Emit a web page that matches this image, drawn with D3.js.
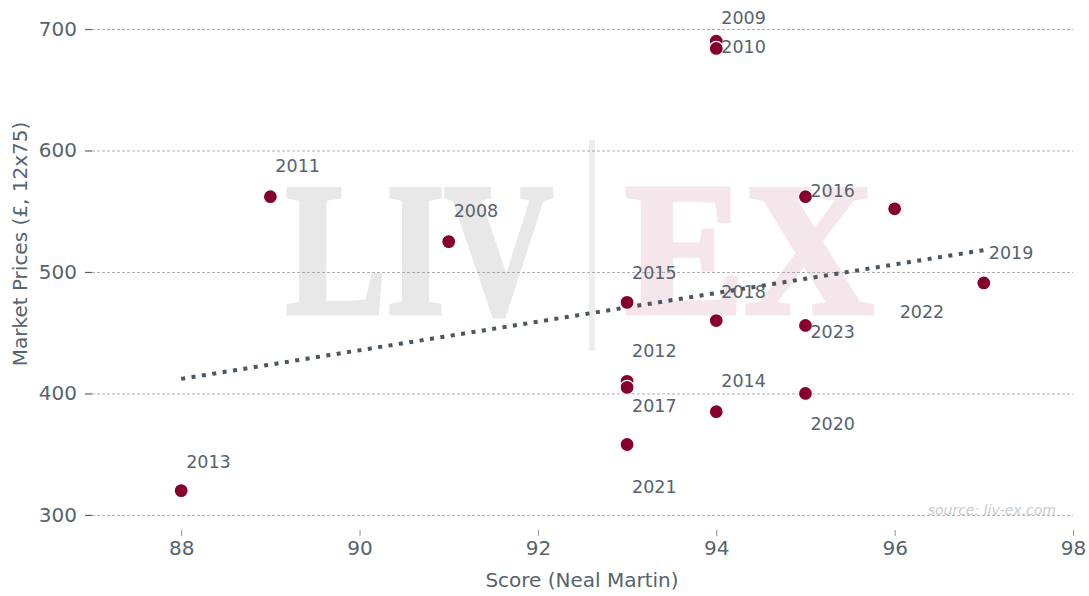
<!DOCTYPE html>
<meta charset="utf-8">
<script src="https://d3js.org/d3.v7.min.js"></script>
<style>
  body { margin: 0; background: #fff; }
  text { font-family: "DejaVu Sans", sans-serif; }
</style>
<div id="chart"></div>
<script>
  // vintages, Neal Martin scores and market prices (GBP per 12x75)
  var vintages = ["2008","2009","2010","2011","2012","2013","2014","2015","2016","2017","2018","2019","2020","2021","2022","2023"];
  var scores   = [91, 94, 94, 89, 93, 88, 94, 93, 95, 93, 94, 97, 95, 93, 96, 95];
  var prices   = [525, 690, 684, 562, 410, 320, 385, 475, 562, 405, 460, 491, 400, 358, 552, 456];
  // where each vintage label ended up (price units)
  var labelPrices = [550, 709, 685, 587, 435, 344, 410, 499, 567, 390, 484, 516, 375, 323, 467, 451];
  // dotted trend line ends
  var trendScores = [88, 97];
  var trendPrices = [412, 518];
  var xTicks = [88, 90, 92, 94, 96, 98];
  var yTicks = [300, 400, 500, 600, 700];

  var width = 1089, height = 596;
  var textCol = "#56636e";

  var svg = d3.select("#chart").append("svg")
    .attr("width", width)
    .attr("height", height);

  var x = d3.scaleLinear().domain([87, 98]).range([92, 1073]);
  var y = d3.scaleLinear().domain([287.6, 723.9]).range([530, 0]);

  // watermark (thickened with a stroke in the same colour)
  svg.append("text")
    .attr("x", 286).attr("y", 313)
    .attr("font-size", 188)
    .attr("textLength", 267).attr("lengthAdjust", "spacingAndGlyphs")
    .attr("fill", "#e8e8e8")
    .attr("stroke", "#e8e8e8").attr("stroke-width", 5).attr("stroke-linejoin", "miter")
    .style("font-family", "Liberation Serif, serif")
    .style("font-weight", "bold")
    .text("LIV");
  svg.append("rect")
    .attr("x", 589).attr("y", 140).attr("width", 6).attr("height", 210)
    .attr("fill", "#ededef");
  svg.append("text")
    .attr("x", 625).attr("y", 313)
    .attr("font-size", 188)
    .attr("textLength", 249).attr("lengthAdjust", "spacingAndGlyphs")
    .attr("fill", "#f5e6eb")
    .attr("stroke", "#f5e6eb").attr("stroke-width", 5).attr("stroke-linejoin", "miter")
    .style("font-family", "Liberation Serif, serif")
    .style("font-weight", "bold")
    .text("EX");

  // horizontal grid
  svg.append("g").selectAll("line")
    .data(yTicks).enter().append("line")
    .attr("x1", 92).attr("x2", 1073)
    .attr("y1", function(d) { return y(d) + 0.5 })
    .attr("y2", function(d) { return y(d) + 0.5 })
    .attr("stroke", "#9a9a9a")
    .attr("stroke-width", 0.8)
    .attr("stroke-dasharray", "3,2");

  // axes
  var yAxis = svg.append("g")
    .attr("transform", "translate(92,0)")
    .call(d3.axisLeft(y).tickValues(yTicks).tickSize(7).tickPadding(8));
  var xAxis = svg.append("g")
    .attr("transform", "translate(0,530)")
    .call(d3.axisBottom(x).tickValues(xTicks).tickSize(6).tickPadding(5));
  [yAxis, xAxis].forEach(function(a) {
    a.select(".domain").remove();
    a.selectAll("text")
      .attr("fill", textCol)
      .style("font-family", "DejaVu Sans, sans-serif")
      .style("font-size", "20px");
  });
  yAxis.selectAll("line").attr("stroke", textCol).attr("stroke-width", 1.2);
  xAxis.selectAll("line").attr("stroke", "#8a9298").attr("stroke-width", 1);

  // axis titles
  svg.append("text")
    .attr("x", 582).attr("y", 587)
    .attr("text-anchor", "middle")
    .attr("fill", textCol)
    .style("font-size", "20px")
    .text("Score (Neal Martin)");
  svg.append("text")
    .attr("transform", "translate(27,244) rotate(-90)")
    .attr("text-anchor", "middle")
    .attr("fill", textCol)
    .style("font-size", "20px")
    .text("Market Prices (£, 12x75)");

  // source note
  svg.append("text")
    .attr("x", 1056).attr("y", 515)
    .attr("text-anchor", "end")
    .attr("fill", "#c6cbd0")
    .style("font-size", "14px")
    .style("font-style", "italic")
    .text("source: liv-ex.com");

  // trend line
  var trend = trendScores.map(function(s, i) { return [s, trendPrices[i]] });
  svg.append("path")
    .datum(trend)
    .attr("d", d3.line().x(function(d) { return x(d[0]) }).y(function(d) { return y(d[1]) }))
    .attr("fill", "none")
    .attr("stroke", "#4b565f")
    .attr("stroke-width", 4)
    .attr("stroke-dasharray", "4,6.5");

  var data = vintages.map(function(v, i) {
    return {year: v, score: scores[i], price: prices[i], lp: labelPrices[i]};
  });

  // points
  svg.append("g").selectAll("circle")
    .data(data).enter().append("circle")
    .attr("cx", function(d) { return x(d.score) })
    .attr("cy", function(d) { return y(d.price) })
    .attr("r", 7)
    .attr("fill", "#86002f")
    .attr("stroke", "#fff")
    .attr("stroke-width", 1.2);

  // vintage labels
  svg.append("g").selectAll("text")
    .data(data).enter().append("text")
    .attr("x", function(d) { return x(d.score) + 5 })
    .attr("y", function(d) { return y(d.lp) })
    .attr("dy", "0.35em")
    .attr("fill", textCol)
    .style("font-size", "17.5px")
    .text(function(d) { return d.year });
</script>
